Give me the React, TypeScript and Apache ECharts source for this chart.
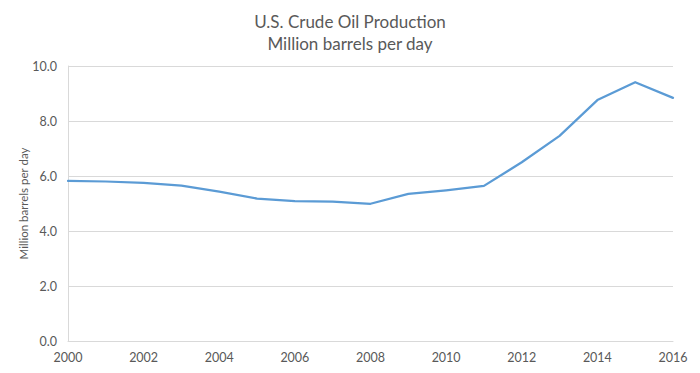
import React, { useEffect, useRef } from "react";
import * as echarts from "echarts";

const years = ["2000","2001","2002","2003","2004","2005","2006","2007","2008","2009","2010","2011","2012","2013","2014","2015","2016"];
const production = [5.82, 5.80, 5.75, 5.65, 5.43, 5.18, 5.09, 5.07, 4.99, 5.35, 5.48, 5.64, 6.50, 7.46, 8.76, 9.41, 8.84];
const titleLines = ["U.S. Crude Oil Production", "Million barrels per day"];
const yAxisName = "Million barrels per day";

const FONT = "Lato, 'Open Sans', sans-serif";
const GREY = "#595959";

export default function App() {
  const ref = useRef<HTMLDivElement>(null);
  useEffect(() => {
    if (!ref.current) return;
    const chart = echarts.init(ref.current, undefined, { renderer: "svg" });
    chart.setOption({
      animation: false,
      backgroundColor: "#ffffff",
      textStyle: { fontFamily: FONT },
      title: {
        text: titleLines.join("\n"),
        left: "center",
        top: 5,
        textStyle: { fontFamily: FONT, fontSize: 17, fontWeight: "normal", color: GREY, lineHeight: 22 },
      },
      grid: { left: 68, right: 27, top: 66, bottom: 32, containLabel: false },
      xAxis: {
        type: "category",
        data: years,
        boundaryGap: false,
        axisLine: { show: true, lineStyle: { color: "#d9d9d9", width: 1 } },
        axisTick: { show: false },
        axisLabel: { interval: 1, color: GREY, fontSize: 12.5, fontFamily: FONT, margin: 10 },
        splitLine: { show: false },
      },
      yAxis: {
        type: "value",
        min: 0,
        max: 10,
        interval: 2,
        name: yAxisName,
        nameLocation: "middle",
        nameGap: 39,
        nameMoveOverlap: false,
        nameRotate: 90,
        nameTextStyle: { color: GREY, fontSize: 11.5, fontFamily: FONT },
        axisLine: { show: true, lineStyle: { color: "#d9d9d9", width: 1 } },
        axisTick: { show: false },
        axisLabel: { color: GREY, fontSize: 12.5, fontFamily: FONT, margin: 11, formatter: (v: number) => v.toFixed(1) },
        splitLine: { show: true, lineStyle: { color: "#d9d9d9", width: 1 } },
      },
      series: [
        {
          type: "line",
          data: production,
          showSymbol: false,
          symbol: "none",
          lineStyle: { color: "#5b9bd5", width: 2.25, cap: "round", join: "round" },
          itemStyle: { color: "#5b9bd5" },
        },
      ],
    });
    return () => chart.dispose();
  }, []);
  return (
    <div
      style={{
        position: "fixed",
        left: 0,
        top: 0,
        width: 700,
        height: 373,
        boxSizing: "border-box",
        border: "1px solid #d9d9d9",
        background: "#fff",
      }}
    >
      <div ref={ref} style={{ position: "absolute", left: -1, top: -1, width: 700, height: 373 }} />
    </div>
  );
}
